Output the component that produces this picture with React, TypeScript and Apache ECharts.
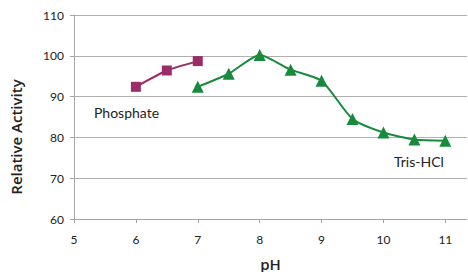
import React, { useEffect, useRef } from "react";
import * as echarts from "echarts";

const phosphatePH = [6, 6.5, 7];
const phosphateActivity = [92.4, 96.4, 98.7];
const trisPH = [7, 7.5, 8, 8.5, 9, 9.5, 10, 10.5, 11];
const trisActivity = [92.4, 95.6, 100.2, 96.6, 93.9, 84.5, 81.2, 79.5, 79.2];
const xTicks = [5, 6, 7, 8, 9, 10, 11];
const yTicks = [60, 70, 80, 90, 100, 110];

const PURPLE = "#9B2C68";
const GREEN = "#178A3C";
const TICK_FONT = "Lato, 'Open Sans', sans-serif";
const TITLE_FONT = "'Open Sans', 'Liberation Sans', Arial, sans-serif";

export default function App() {
  const ref = useRef<HTMLDivElement>(null);
  useEffect(() => {
    if (!ref.current) return;
    const chart = echarts.init(ref.current, undefined, { renderer: "svg" });
    chart.setOption({
      animation: false,
      backgroundColor: "#ffffff",
      grid: { left: 74, top: 15, right: 1, bottom: 53, outerBoundsMode: "none", containLabel: false },
      xAxis: {
        type: "value",
        min: 5,
        max: 11.35,
        interval: 1,
        name: "pH",
        nameLocation: "middle",
        nameGap: 37,
        nameTextStyle: { fontFamily: TITLE_FONT, fontSize: 15, color: "#222", fontWeight: 600 },
        axisLine: { show: true, lineStyle: { color: "#a6a6a6", width: 1 } },
        axisTick: { show: true, length: 4, lineStyle: { color: "#a6a6a6" } },
        axisLabel: {
          margin: 14,
          fontSize: 12,
          fontFamily: TICK_FONT,
          color: "#222",
          showMaxLabel: false,
          formatter: (v: number) => (xTicks.includes(v) ? String(v) : ""),
        },
        splitLine: { show: false },
      },
      yAxis: {
        type: "value",
        min: 60,
        max: 110,
        interval: 10,
        axisLine: { show: true, lineStyle: { color: "#a6a6a6", width: 1 } },
        axisTick: { show: true, length: 4, lineStyle: { color: "#a6a6a6" } },
        axisLabel: {
          margin: 10,
          fontSize: 12,
          fontFamily: TICK_FONT,
          color: "#222",
          formatter: (v: number) => (yTicks.includes(v) ? String(v) : ""),
        },
        splitLine: { show: true, lineStyle: { color: "#b0b0b0", width: 1 } },
      },
      series: [
        {
          name: "Phosphate",
          type: "line",
          data: phosphatePH.map((x, i) => [x, phosphateActivity[i]]),
          smooth: 0.2,
          symbol: "rect",
          symbolSize: 10,
          lineStyle: { color: PURPLE, width: 2 },
          itemStyle: { color: PURPLE },
        },
        {
          name: "Tris-HCl",
          type: "line",
          data: trisPH.map((x, i) => [x, trisActivity[i]]),
          smooth: 0.2,
          symbol: "triangle",
          symbolSize: 12,
          lineStyle: { color: GREEN, width: 2 },
          itemStyle: { color: GREEN },
        },
      ],
      graphic: [
        {
          type: "text",
          x: 16,
          y: 137,
          rotation: Math.PI / 2,
          style: {
            text: "Relative Activity",
            fontSize: 15,
            fontWeight: 600,
            fontFamily: TITLE_FONT,
            fill: "#222",
            align: "center",
            verticalAlign: "middle",
          },
        },
        {
          type: "text",
          left: 94,
          top: 105,
          style: { text: "Phosphate", fontSize: 14, fontFamily: TICK_FONT, fill: "#222" },
        },
        {
          type: "text",
          left: 394,
          top: 154,
          style: { text: "Tris-HCl", fontSize: 14, fontFamily: TICK_FONT, fill: "#222" },
        },
      ],
    });
    return () => chart.dispose();
  }, []);
  return <div ref={ref} style={{ width: 468, height: 272, position: "absolute", left: 0, top: 0 }} />;
}
